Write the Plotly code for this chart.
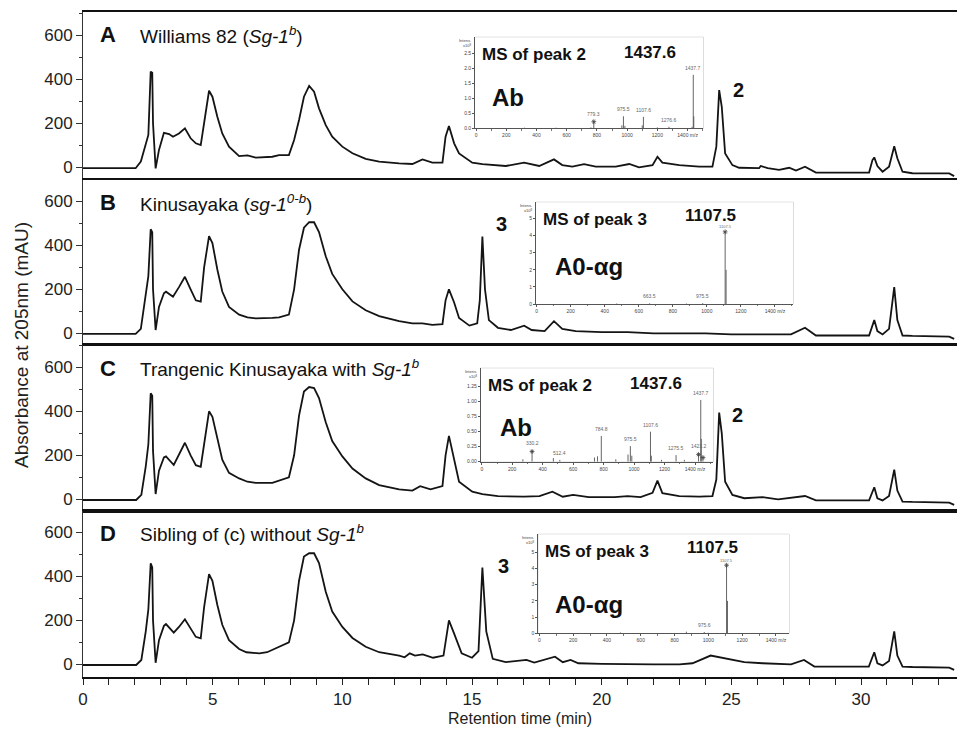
import plotly.graph_objects as go

# ---------------- chromatogram data (retention time in min, absorbance in mAU) ----------------
t_A = [0, 2.03, 2.23, 2.42, 2.52, 2.61, 2.67, 2.70, 2.80, 2.93, 3.12, 3.32, 3.47, 3.70, 3.93, 4.15, 4.35,
       4.54, 4.67, 4.86, 4.99, 5.18, 5.37, 5.63, 6.02, 6.34, 6.66, 7.30, 7.56, 7.94, 8.14, 8.33, 8.52, 8.72,
       8.91, 9.10, 9.36, 9.61, 10.0, 10.39, 10.90, 11.42, 12.19, 12.70, 13.09, 13.47, 13.86, 13.98, 14.11,
       14.31, 14.50, 15.01, 15.40, 16.30, 17.01, 17.59, 18.16, 18.48, 18.87, 19.32, 19.77, 20.54, 21.06,
       21.44, 21.96, 22.15, 22.34, 22.99, 23.76, 24.27, 24.42, 24.53, 24.63, 24.76, 25.04, 25.30, 26.07,
       26.13, 26.4, 26.84, 27.23, 27.49, 27.84, 28.26, 30.31, 30.44, 30.51, 30.63, 30.83, 31.08, 31.28,
       31.40, 31.60, 31.98, 33.40, 33.59]
a_A = [-4, -4, 26, 109, 147, 435, 430, 200, -5, 79, 157, 151, 139, 154, 177, 132, 109,
       101, 200, 348, 321, 230, 154, 94, 51, 54, 44, 48, 55, 56, 124, 215, 321, 370,
       344, 268, 192, 139, 94, 64, 38, 26, 18, 15, 36, 21, 21, 139, 188,
       109, 63, 21, 14, 6, 21, 6, 36, 10, 3, 14, 3, 3, 15,
       0, 10, 48, 21, 10, 3, 3, 94, 351, 275, 63, 10, -2, -4,
       6, -4, -12, -2, -15, 3, -24, -24, 33, 45, 6, -20, 3, 96,
       41, -20, -27, -28, -40]

t_B = [0, 2.03, 2.23, 2.42, 2.52, 2.61, 2.67, 2.70, 2.80, 2.93, 3.12, 3.20, 3.47, 3.70, 3.93, 4.15, 4.35,
       4.54, 4.67, 4.86, 4.99, 5.18, 5.37, 5.63, 6.02, 6.34, 6.66, 7.30, 7.56, 7.94, 8.14, 8.33, 8.52, 8.72,
       8.91, 9.10, 9.36, 9.61, 10.0, 10.39, 10.90, 11.42, 12.19, 12.70, 13.09, 13.47, 13.86, 13.98, 14.11,
       14.31, 14.50, 14.90, 15.20, 15.30, 15.40, 15.50, 15.65, 16.0, 16.5, 17.01, 17.30, 17.8, 18.16, 18.48,
       19.0, 20.0, 21.0, 22.0, 23.0, 24.0, 25.0, 26.0, 27.3, 27.84, 28.26, 30.31, 30.44, 30.51, 30.63, 30.83,
       31.08, 31.28, 31.40, 31.60, 31.98, 33.40, 33.59]
a_B = [-3, -3, 20, 182, 260, 473, 460, 200, 15, 120, 182, 189, 166, 210, 257, 200, 150,
       144, 300, 442, 410, 290, 190, 120, 85, 72, 68, 70, 72, 85, 200, 380, 480, 505,
       505, 460, 350, 270, 200, 145, 105, 78, 55, 45, 45, 38, 42, 150, 200,
       140, 70, 35, 45, 150, 440, 200, 60, 25, 15, 35, 15, 10, 55, 20,
       10, 5, 5, 0, 0, 0, -5, -5, -5, 25, -10, -10, 40, 60, 10, -5,
       20, 210, 60, -10, -12, -15, -25]

t_C = [0, 2.05, 2.25, 2.42, 2.52, 2.61, 2.67, 2.70, 2.80, 2.93, 3.12, 3.20, 3.50, 3.70, 3.93, 4.15, 4.35,
       4.54, 4.67, 4.86, 4.99, 5.18, 5.37, 5.63, 6.02, 6.34, 6.66, 7.30, 7.56, 7.94, 8.14, 8.33, 8.52, 8.72,
       8.91, 9.10, 9.36, 9.61, 10.0, 10.39, 10.90, 11.42, 12.19, 12.70, 13.0, 13.4, 13.86, 13.98, 14.11,
       14.31, 14.50, 15.01, 15.40, 16.0, 17.0, 17.6, 18.1, 18.5, 18.9, 19.5, 20.5, 21.0, 21.5, 21.96, 22.15,
       22.34, 22.99, 23.76, 24.27, 24.42, 24.53, 24.63, 24.76, 25.04, 25.5, 26.2, 26.8, 27.84, 28.26, 30.31,
       30.44, 30.51, 30.63, 30.83, 31.08, 31.28, 31.40, 31.60, 31.98, 33.40, 33.59]
a_C = [-3, -3, 20, 150, 250, 482, 470, 220, 24, 130, 190, 195, 156, 200, 257, 200, 155,
       148, 260, 400, 375, 270, 180, 120, 95, 80, 75, 75, 85, 100, 200, 380, 490, 510,
       505, 460, 350, 265, 195, 140, 95, 65, 45, 40, 60, 45, 60, 200, 288,
       180, 80, 35, 24, 15, 12, 15, 35, 12, 20, 10, 10, 15, 10, 30, 85,
       28, 15, 12, 15, 90, 394, 300, 80, 20, 5, 10, 0, 15, -5, -5,
       35, 55, 5, -5, 15, 135, 40, -10, -12, -15, -25]

t_D = [0, 2.05, 2.25, 2.42, 2.52, 2.61, 2.67, 2.70, 2.80, 2.93, 3.12, 3.20, 3.50, 3.70, 3.93, 4.15, 4.35,
       4.54, 4.67, 4.86, 4.99, 5.18, 5.37, 5.63, 6.02, 6.30, 6.80, 7.10, 7.50, 7.94, 8.14, 8.33, 8.52, 8.72,
       8.91, 9.10, 9.36, 9.61, 10.0, 10.39, 10.90, 11.42, 12.19, 12.40, 12.60, 12.80, 13.10, 13.50, 13.90,
       14.11, 14.31, 14.60, 15.0, 15.25, 15.40, 15.55, 15.80, 16.3, 17.1, 17.4, 18.2, 18.5, 18.8, 19.1, 20.0,
       21.0, 22.0, 23.0, 23.5, 24.2, 24.8, 25.5, 26.2, 27.3, 27.8, 28.2, 30.3, 30.44, 30.51, 30.63, 30.83,
       31.08, 31.28, 31.40, 31.60, 31.98, 33.40, 33.59]
a_D = [-3, -3, 20, 150, 250, 459, 440, 200, 7, 110, 175, 183, 144, 170, 205, 160, 125,
       118, 260, 410, 380, 270, 180, 110, 70, 55, 50, 55, 75, 100, 200, 380, 490, 505,
       505, 460, 330, 240, 170, 120, 80, 55, 40, 32, 50, 40, 45, 30, 40,
       200, 140, 50, 30, 60, 440, 150, 25, 10, 20, 8, 35, 10, 20, 5, 2,
       0, 0, 0, 5, 40, 25, 10, 5, 0, 20, -10, -10, 35, 55, 5, -5,
       15, 150, 40, -10, -12, -15, -25]

# ---------------- mass spectra of the insets (m/z, intensity x10^8) ----------------
msA_mz = [779.3, 975.5, 1107.6, 1276.6, 1437.7]
msA_int = [0.24, 0.40, 0.38, 0.05, 1.78]
msA_minor_mz = [320, 530, 760, 965, 985, 1100, 1200, 1430, 1441]
msA_minor_int = [0.02, 0.02, 0.03, 0.10, 0.08, 0.10, 0.03, 0.05, 0.40]

msB_mz = [663.5, 975.5, 1107.5]
msB_int = [0.04, 0.05, 4.25]
msB_minor_mz = [470, 880, 1113]
msB_minor_int = [0.03, 0.03, 2.0]

msC_mz = [330.2, 512.4, 784.8, 975.5, 1107.6, 1275.5, 1423.2, 1437.7]
msC_int = [0.19, 0.03, 0.43, 0.26, 0.50, 0.11, 0.14, 1.03]
msC_minor_mz = [270, 470, 740, 760, 880, 960, 985, 1113, 1180, 1330, 1441, 1452]
msC_minor_int = [0.04, 0.06, 0.07, 0.09, 0.04, 0.12, 0.10, 0.10, 0.03, 0.03, 0.38, 0.06]

msD_mz = [975.6, 1107.5]
msD_int = [0.08, 4.20]
msD_minor_mz = [480, 870, 1000, 1113]
msD_minor_int = [0.05, 0.10, 0.03, 2.0]

# ---------------- labels ----------------
panel_letters = ["A", "B", "C", "D"]
panel_titles = ["Williams 82 (<i>Sg-1<sup>b</sup></i>)",
                "Kinusayaka (<i>sg-1<sup>0-b</sup></i>)",
                "Trangenic Kinusayaka with <i>Sg-1<sup>b</sup></i>",
                "Sibling of (c) without <i>Sg-1<sup>b</sup></i>"]
inset_titles = ["MS of peak 2", "MS of peak 3", "MS of peak 2", "MS of peak 3"]
inset_mass = ["1437.6", "1107.5", "1437.6", "1107.5"]
inset_names = ["Ab", "A0-\u03b1g", "Ab", "A0-\u03b1g"]
peak_marks = ["2", "3", "2", "3"]
x_ticks = [0, 5, 10, 15, 20, 25, 30]
y_ticks = [0, 200, 400, 600]
ms_xticks = [0, 200, 400, 600, 800, 1000, 1200, 1400]
ms_xticktext = ["0", "200", "400", "600", "800", "1000", "1200", "1400 m/z"]
ms_yticks = [[0, 0.5, 1.0, 1.5, 2.0, 2.5], [0, 1, 2, 3, 4, 5],
             [0, 0.25, 0.5, 0.75, 1.0, 1.25], [0, 1, 2, 3, 4, 5]]
ms_yfmt = [".1f", "d", ".2f", "d"]

FONT = "Arial, Liberation Sans, sans-serif"
W, H = 957, 734
ML, MR, MT, MB = 83, 0, 12, 57
PW, PH = W - ML - MR, H - MT - MB


def px_x(x):
    return (x - ML) / PW


def px_y(y):
    return (H - MB - y) / PH


# panel pixel bounds (top, bottom)
panel_px = [(12, 178), (180, 344), (345, 511), (511, 677)]
panel_range = [[-48.6, 706], [-48.6, 697], [-53, 701], [-57.5, 697]]
# insets pixel boxes (left, right, top, bottom)
inset_px = [(475, 703.3, 37.3, 128.3), (536, 793.3, 202.3, 304),
            (480.7, 713.3, 368.3, 461.7), (538.3, 789, 534.3, 633.3)]
inset_xrange = [[-7, 1504], [-4, 1508], [-7, 1520], [-6, 1477]]
inset_yrange = [[0, 3.03], [0, 5.95], [0, 1.557], [0, 6.11]]

fig = go.Figure()
line_col = "#141414"

chrom = [(t_A, a_A), (t_B, a_B), (t_C, a_C), (t_D, a_D)]
for i, (t, a) in enumerate(chrom, start=1):
    sfx = "" if i == 1 else str(i)
    fig.add_trace(go.Scatter(x=t, y=a, mode="lines", line=dict(color=line_col, width=1.8),
                             xaxis="x" + sfx, yaxis="y" + sfx, showlegend=False, hoverinfo="skip"))

spectra = [(msA_mz, msA_int, msA_minor_mz, msA_minor_int),
           (msB_mz, msB_int, msB_minor_mz, msB_minor_int),
           (msC_mz, msC_int, msC_minor_mz, msC_minor_int),
           (msD_mz, msD_int, msD_minor_mz, msD_minor_int)]
stars = [[(779.3, 0.22)], [(1107.5, 4.22)], [(330.2, 0.17), (1423.2, 0.12), (1452, 0.07)], [(1107.5, 4.2)]]

for k, (mz, it, mmz, mit) in enumerate(spectra):
    n = 5 + k
    xs, ys = [], []
    for m, v in list(zip(mz, it)) + list(zip(mmz, mit)):
        xs += [m, m, None]
        ys += [0, v, None]
    fig.add_trace(go.Scatter(x=xs, y=ys, mode="lines", line=dict(color="#555", width=0.9),
                             xaxis="x%d" % n, yaxis="y%d" % n, showlegend=False, hoverinfo="skip"))
    sx = [s[0] for s in stars[k]]
    sy = [s[1] for s in stars[k]]
    fig.add_trace(go.Scatter(x=sx, y=sy, mode="markers",
                             marker=dict(symbol="asterisk-open", size=4, color="#444", line=dict(width=0.8, color="#444")),
                             xaxis="x%d" % n, yaxis="y%d" % n, showlegend=False, hoverinfo="skip"))

layout = dict(width=W, height=H, margin=dict(l=ML, r=MR, t=MT, b=MB),
              paper_bgcolor="white", plot_bgcolor="white",
              font=dict(family=FONT, color="#1a1a1a"), showlegend=False)

for i in range(1, 5):
    sfx = "" if i == 1 else str(i)
    top, bot = panel_px[i - 1]
    xa = dict(domain=[0, 1], anchor="y" + sfx, range=[0, 33.7], showline=True, mirror=True,
              linecolor="#111", linewidth=1.6, showgrid=False, zeroline=False)
    if i == 4:
        xa.update(tickvals=x_ticks, ticks="outside", ticklen=6, tickwidth=1, tickcolor="#222",
                  tickfont=dict(size=17, family=FONT, color="#222"),
                  minor=dict(dtick=1, ticks="outside", ticklen=6, tickwidth=1, tickcolor="#222"))
    else:
        xa.update(showticklabels=False, ticks="")
    ya = dict(domain=[px_y(bot), px_y(top)], anchor="x" + sfx, range=panel_range[i - 1],
              showline=True, linecolor="#333", linewidth=1, showgrid=False, zeroline=False,
              tickvals=y_ticks, ticks="outside", ticklen=6, tickwidth=1, tickcolor="#333",
              tickfont=dict(size=17, family=FONT, color="#222"),
              minor=dict(dtick=100, ticks="outside", ticklen=3, tickwidth=1, tickcolor="#333"))
    layout["xaxis" + sfx] = xa
    layout["yaxis" + sfx] = ya

shapes = []
annotations = []
for k in range(4):
    n = 5 + k
    l, r, t, b = inset_px[k]
    layout["xaxis%d" % n] = dict(domain=[px_x(l), px_x(r)], anchor="y%d" % n, range=inset_xrange[k],
                                 showline=True, linecolor="#555", linewidth=0.8, showgrid=False, zeroline=False,
                                 tickvals=ms_xticks, ticktext=ms_xticktext, ticks="outside", ticklen=2,
                                 tickwidth=0.6, tickcolor="#555", tickfont=dict(size=5, color="#444", family=FONT),
                                 minor=dict(dtick=100, ticks="outside", ticklen=1.5, tickwidth=0.5, tickcolor="#777"))
    layout["yaxis%d" % n] = dict(domain=[px_y(b), px_y(t)], anchor="x%d" % n, range=inset_yrange[k],
                                 showline=True, linecolor="#555", linewidth=0.8, showgrid=False, zeroline=False,
                                 tickvals=ms_yticks[k], tickformat=ms_yfmt[k], ticks="outside", ticklen=2,
                                 tickwidth=0.6, tickcolor="#555", tickfont=dict(size=5, color="#444", family=FONT))
    shapes.append(dict(type="rect", xref="paper", yref="paper", x0=px_x(l), x1=px_x(r), y0=px_y(b), y1=px_y(t),
                       fillcolor="white", line=dict(color="#b0b0b0", width=0.8), layer="below"))
    # inset texts
    annotations.append(dict(xref="paper", yref="paper", x=px_x(l + 5), y=px_y(t + 17), xanchor="left", yanchor="middle",
                            text="<b>%s</b>" % inset_titles[k], showarrow=False, font=dict(size=17, family=FONT, color="#111")))
    mass_dy = [15, 13, 15, 13][k]
    annotations.append(dict(xref="paper", yref="paper", x=px_x(l + 147), y=px_y(t + mass_dy), xanchor="left", yanchor="middle",
                            text="<b>%s</b>" % inset_mass[k], showarrow=False, font=dict(size=17, family=FONT, color="#111")))
    name_dy = [60, 64, 59, 70][k]
    name_dx = [15, 17, 17, 15][k]
    annotations.append(dict(xref="paper", yref="paper", x=px_x(l + name_dx), y=px_y(t + name_dy), xanchor="left", yanchor="middle",
                            text="<b>%s</b>" % inset_names[k], showarrow=False, font=dict(size=24, family=FONT, color="#111")))
    annotations.append(dict(xref="paper", yref="paper", x=px_x(l - 2), y=px_y(t - 1), xanchor="right", yanchor="top",
                            text="Intens.<br>x10<sup>8</sup>", showarrow=False, align="right",
                            font=dict(size=4, family=FONT, color="#444")))
    mz, it = spectra[k][0], spectra[k][1]
    for m, v in zip(mz, it):
        big = v > 3
        annotations.append(dict(xref="x%d" % n, yref="y%d" % n, x=m, y=v, yanchor="bottom", yshift=0 if big else 2,
                                text="%.1f" % m, showarrow=False, font=dict(size=4 if big else 5, family=FONT, color="#666")))

# panel letters and titles
for i in range(4):
    top = panel_px[i][0]
    cy = top + [22.5, 22.5, 23, 22][i]
    annotations.append(dict(xref="paper", yref="paper", x=px_x(98), y=px_y(cy), xanchor="left", yanchor="middle",
                            text="<b>%s</b>" % panel_letters[i], showarrow=False, font=dict(size=22, family=FONT, color="#111")))
    annotations.append(dict(xref="paper", yref="paper", x=px_x(138), y=px_y(cy), xanchor="left", yanchor="middle",
                            text=panel_titles[i], showarrow=False, font=dict(size=19, family=FONT, color="#111")))

# peak number labels
peak_pos = [(738, 90), (501, 224), (737, 415), (503, 566)]
for i in range(4):
    annotations.append(dict(xref="paper", yref="paper", x=px_x(peak_pos[i][0]), y=px_y(peak_pos[i][1]),
                            xanchor="center", yanchor="middle", text="<b>%s</b>" % peak_marks[i], showarrow=False,
                            font=dict(size=20, family=FONT, color="#111")))

# axis titles
annotations.append(dict(xref="paper", yref="paper", x=0.5, y=px_y(718), xanchor="center", yanchor="middle",
                        text="Retention time (min)", showarrow=False, font=dict(size=16, family=FONT, color="#222")))
annotations.append(dict(xref="paper", yref="paper", x=px_x(22), y=px_y(345), xanchor="center", yanchor="middle",
                        text="Absorbance at 205nm (mAU)", textangle=-90, showarrow=False,
                        font=dict(size=19, family=FONT, color="#222")))

layout["shapes"] = shapes
layout["annotations"] = annotations
fig.update_layout(**layout)
fig.write_html("out.html", config={"displayModeBar": False},
               post_script="document.body.style.margin='0px';document.body.style.padding='0px';document.body.style.overflow='hidden';")
